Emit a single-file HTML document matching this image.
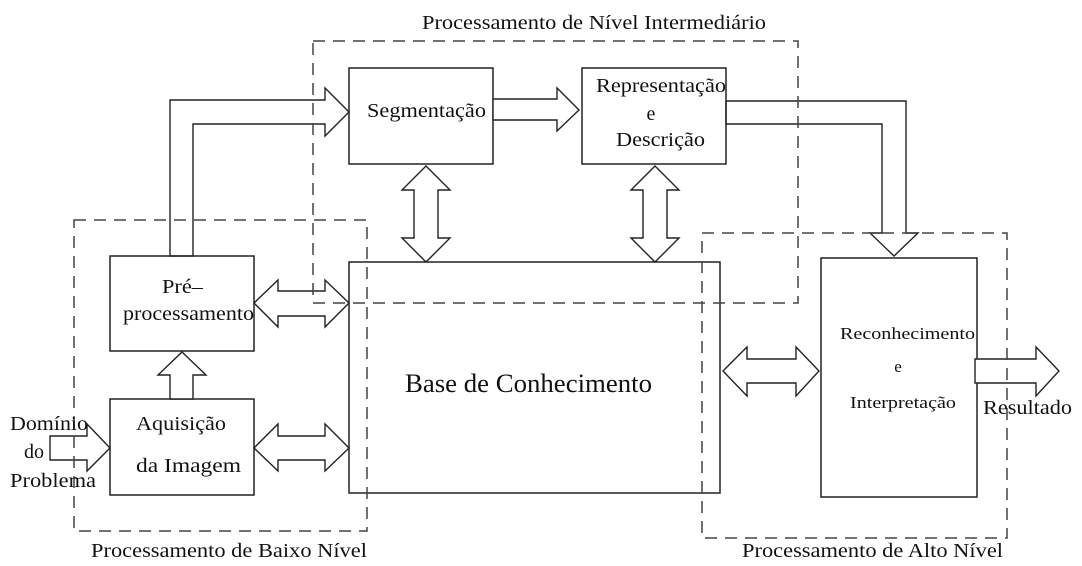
<!DOCTYPE html>
<html><head><meta charset="utf-8"><style>
html,body{margin:0;padding:0;background:#fff;}
svg{display:block;}
text{font-family:"Liberation Serif",serif;fill:#111;}
</style></head><body>
<svg width="1082" height="566" viewBox="0 0 1082 566" xmlns="http://www.w3.org/2000/svg">
<g fill="#fff" stroke="#222" stroke-width="1.5">
<rect x="349" y="68" width="144" height="96"/>
<rect x="582" y="68" width="144" height="96"/>
<rect x="110" y="256" width="144" height="95"/>
<rect x="110" y="399" width="144" height="96"/>
<rect x="349" y="262" width="371" height="231"/>
<rect x="821" y="258" width="156" height="239"/>
</g>
<g fill="#fff" stroke="#222" stroke-width="1.4" stroke-linejoin="miter">
<polygon points="170,256 170,100 325,100 325,88 349,112 325,136 325,124 193,124 193,256" fill="none"/>
<polygon points="726,101 906,101 906,233 918,233 894,256 870,233 882,233 882,124 726,124" fill="none"/>
<polygon points="493,99 557,99 557,88 579,110 557,131 557,120 493,120"/>
<polygon points="426,166 450,190 438,190 438,238 450,238 426,262 402,238 414,238 414,190 402,190"/>
<polygon points="655,166 679,190 667,190 667,238 679,238 655,262 631,238 643,238 643,190 631,190"/>
<polygon points="254,303 278,280 278,291 325,291 325,280 349,303 325,327 325,316 278,316 278,327"/>
<polygon points="254,448 278,424 278,436 325,436 325,424 349,448 325,471 325,460 278,460 278,471"/>
<polygon points="723,371 747,347 747,359 796,359 796,347 819,371 796,396 796,383 747,383 747,396"/>
<polygon points="182,352 206,375 193,375 193,399 170,399 170,375 158,375"/>
<polygon points="50,436 87,436 87,424 110,448 87,471 87,460 50,460"/>
<polygon points="975,359 1036,359 1036,347 1059,371 1036,396 1036,383 975,383"/>
</g>
<g fill="none" stroke="#444" stroke-width="1.5" stroke-dasharray="12,8">
<rect x="74" y="220" width="293" height="311"/>
<rect x="313" y="41" width="485" height="262"/>
<rect x="702" y="233" width="305" height="305"/>
</g>
<text x="422" y="29" font-size="20" textLength="344" lengthAdjust="spacingAndGlyphs">Processamento de Nível Intermediário</text>
<text x="91" y="557" font-size="20" textLength="276" lengthAdjust="spacingAndGlyphs">Processamento de Baixo Nível</text>
<text x="742" y="557" font-size="20" textLength="261" lengthAdjust="spacingAndGlyphs">Processamento de Alto Nível</text>
<text x="367" y="117" font-size="20" textLength="119" lengthAdjust="spacingAndGlyphs">Segmentação</text>
<text x="596" y="92" font-size="20" textLength="130" lengthAdjust="spacingAndGlyphs">Representação</text>
<text x="651" y="120" font-size="20" text-anchor="middle">e</text>
<text x="616" y="146" font-size="20" textLength="89" lengthAdjust="spacingAndGlyphs">Descrição</text>
<text x="162" y="293" font-size="20" textLength="41" lengthAdjust="spacingAndGlyphs">Pré–</text>
<text x="123" y="320" font-size="20" textLength="131" lengthAdjust="spacingAndGlyphs">processamento</text>
<text x="136" y="430" font-size="20" textLength="90" lengthAdjust="spacingAndGlyphs">Aquisição</text>
<text x="136" y="472" font-size="20" textLength="105" lengthAdjust="spacingAndGlyphs">da  Imagem</text>
<text x="10" y="430" font-size="20" textLength="78" lengthAdjust="spacingAndGlyphs">Domínio</text>
<text x="24" y="458" font-size="20">do</text>
<text x="10" y="487" font-size="20" textLength="86" lengthAdjust="spacingAndGlyphs">Problema</text>
<text x="405" y="392" font-size="26" textLength="247" lengthAdjust="spacingAndGlyphs">Base de Conhecimento</text>
<text x="840" y="339" font-size="17" textLength="135" lengthAdjust="spacingAndGlyphs">Reconhecimento</text>
<text x="898" y="372" font-size="17" text-anchor="middle">e</text>
<text x="850" y="408" font-size="17" textLength="106" lengthAdjust="spacingAndGlyphs">Interpretação</text>
<text x="983" y="414" font-size="20" textLength="89" lengthAdjust="spacingAndGlyphs">Resultado</text>
</svg>
</body></html>
